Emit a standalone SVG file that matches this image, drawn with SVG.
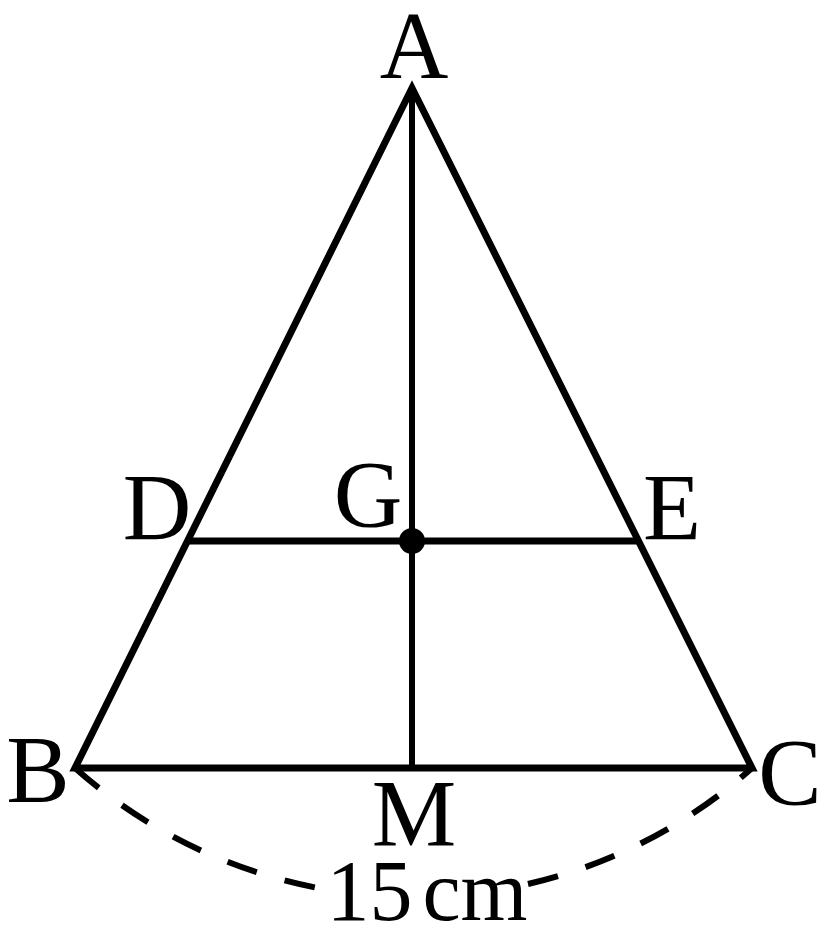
<svg xmlns="http://www.w3.org/2000/svg" width="821" height="949" viewBox="0 0 821 949">
<style>
.lbl{font-family:"Liberation Serif","Times New Roman",serif;font-size:95px;fill:#000;text-anchor:middle}
.small{font-size:86px}
.edge{fill:none;stroke:#000;stroke-width:7;stroke-linejoin:miter;stroke-miterlimit:20}
.thin{fill:none;stroke:#000;stroke-width:6}
.dash{fill:none;stroke:#000;stroke-width:6;stroke-dasharray:31 29}
</style>
<rect width="821" height="949" fill="#fff"/>
<g id="connectors">
<path class="edge" d="M412 88 L75 768 L752 768 Z"/>
<line class="thin" x1="412" y1="88" x2="412" y2="768"/>
<line class="edge" x1="188" y1="541" x2="638" y2="541"/>
<path class="dash" d="M75 768 A508.6 508.6 0 0 0 315 887.4"/>
<path class="dash" d="M528 884 A508.6 508.6 0 0 0 752 768"/>
</g>
<g id="node-A"><text class="lbl" x="414" y="78">A</text></g>
<g id="node-B"><text class="lbl" x="38" y="802">B</text></g>
<g id="node-C"><text class="lbl" x="790" y="805">C</text></g>
<g id="node-M"><text class="lbl" x="414" y="846">M</text></g>
<g id="node-D"><text class="lbl" x="157" y="540">D</text></g>
<g id="node-E"><text class="lbl" x="672" y="540">E</text></g>
<g id="node-G"><circle cx="412" cy="541" r="13" fill="#000"/><text class="lbl" x="368" y="527">G</text></g>
<g id="label-15cm"><text class="lbl small" x="427" y="920"><tspan>15</tspan><tspan dx="10">cm</tspan></text></g>
</svg>
